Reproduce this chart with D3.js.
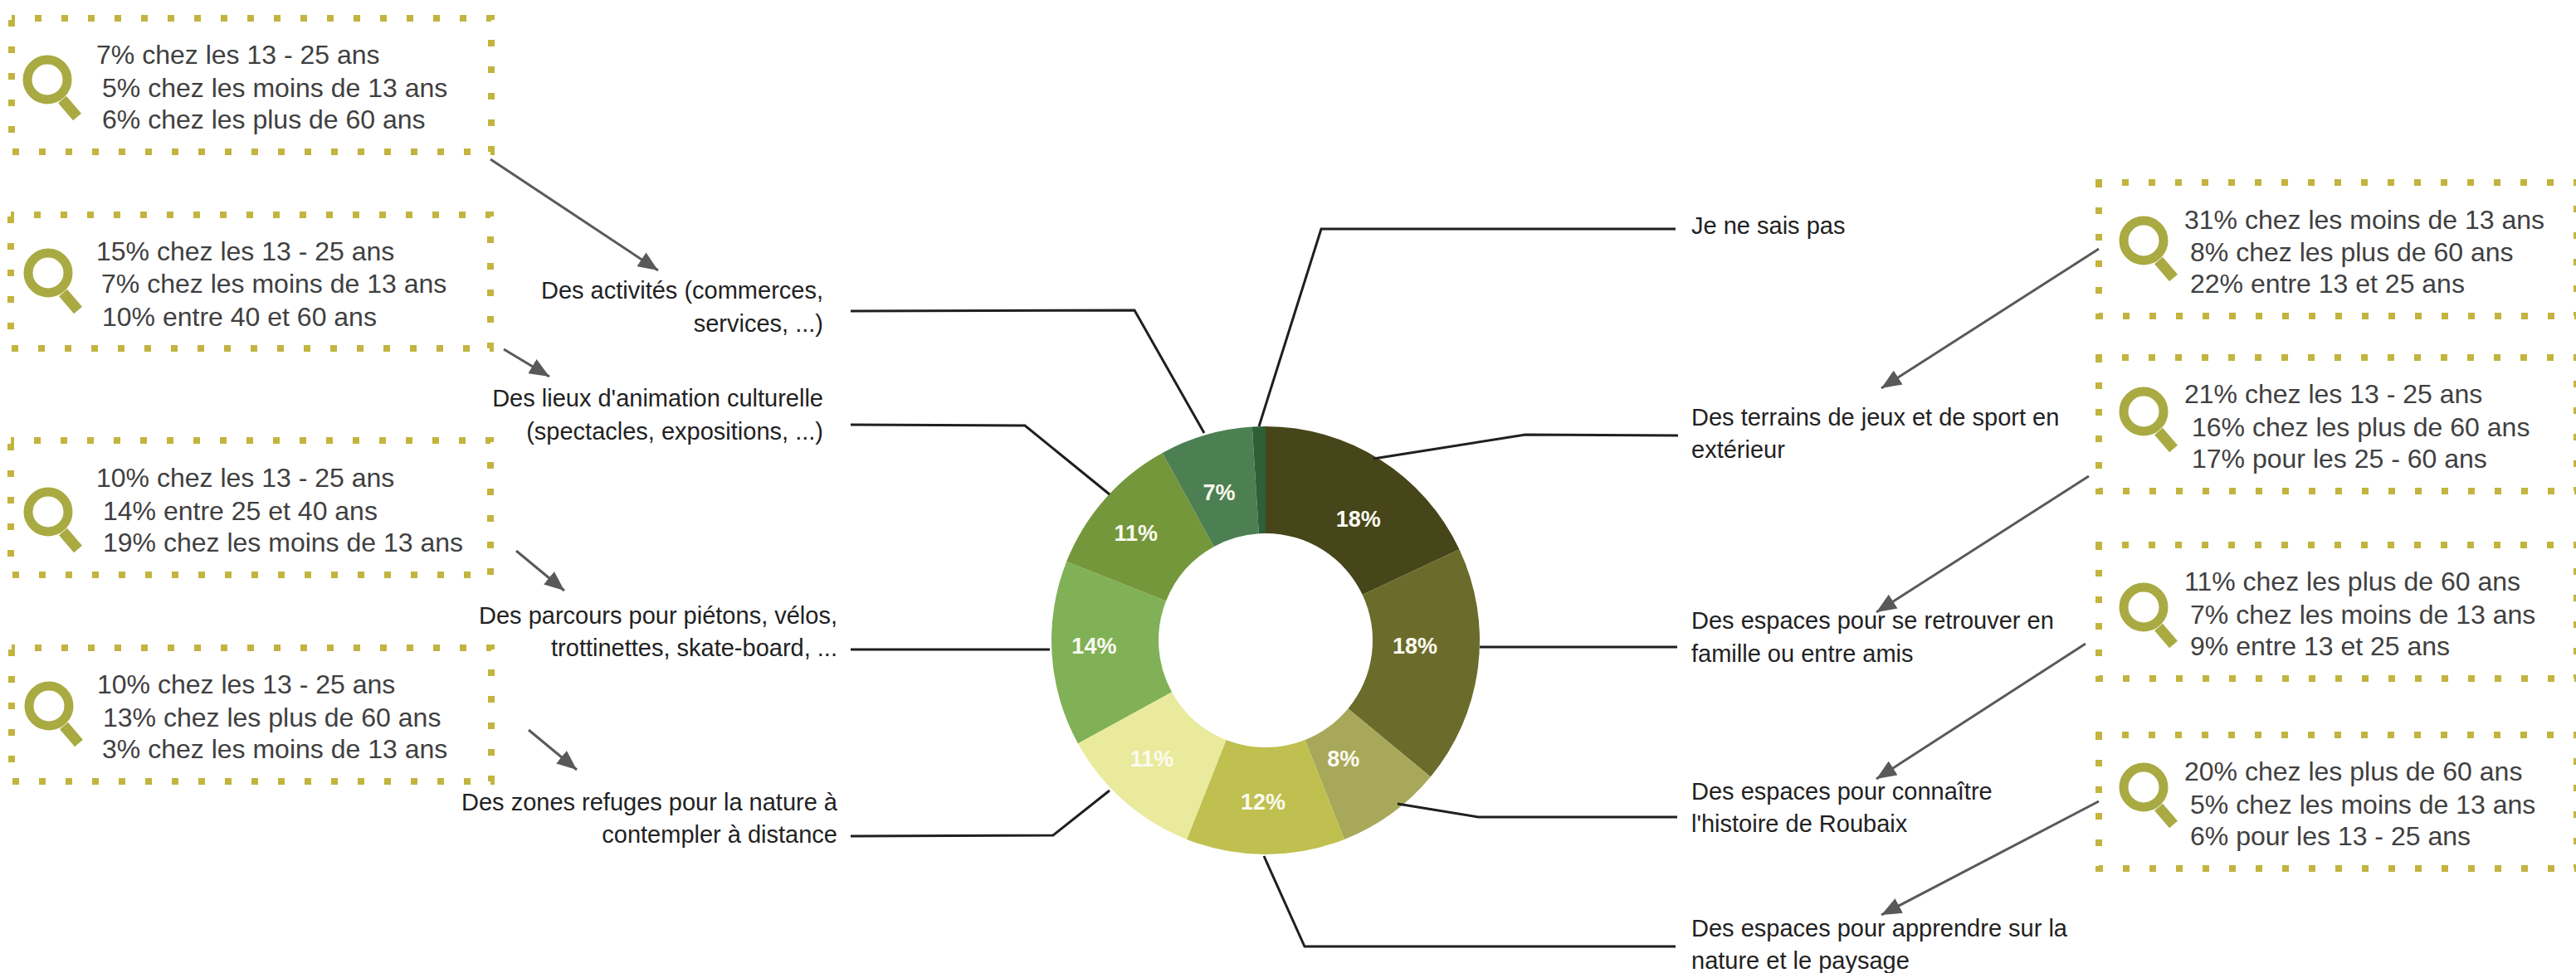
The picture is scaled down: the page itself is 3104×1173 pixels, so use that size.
<!DOCTYPE html>
<html lang="fr">
<head>
<meta charset="utf-8">
<script src="https://cdn.jsdelivr.net/npm/d3@7/dist/d3.min.js"></script>
<style>
html,body{margin:0;padding:0;background:#fff;overflow:hidden}
svg{display:block}
text{font-family:"Liberation Sans",Arial,sans-serif}
</style>
</head>
<body>
<div id="chart"></div>
<script>
// ---- data ----
const categories = ["Des terrains de jeux et de sport en extérieur","Des espaces pour se retrouver en famille ou entre amis","Des espaces pour connaître l'histoire de Roubaix","Des espaces pour apprendre sur la nature et le paysage","Des zones refuges pour la nature à contempler à distance","Des parcours pour piétons, vélos, trottinettes, skate-board, ...","Des lieux d'animation culturelle (spectacles, expositions, ...)","Des activités (commerces, services, ...)","Je ne sais pas"];
const values = [18,18,8,12,11,14,11,7,1];
const sliceColors = ["#46461a","#6b6b2c","#a8a85a","#bfc04f","#eaea9d","#80b157","#75973b","#4c8052","#2f5f37"];
const valueLabels = ["18%","18%","8%","12%","11%","14%","11%","7%",""];
const detailTexts = [
  ["7% chez les 13 - 25 ans","5% chez les moins de 13 ans","6% chez les plus de 60 ans"],
  ["15% chez les 13 - 25 ans","7% chez les moins de 13 ans","10% entre 40 et 60 ans"],
  ["10% chez les 13 - 25 ans","14% entre 25 et 40 ans","19% chez les moins de 13 ans"],
  ["10% chez les 13 - 25 ans","13% chez les plus de 60 ans","3% chez les moins de 13 ans"],
  ["31% chez les moins de 13 ans","8% chez les plus de 60 ans","22% entre 13 et 25 ans"],
  ["21% chez les 13 - 25 ans","16% chez les plus de 60 ans","17% pour les 25 - 60 ans"],
  ["11% chez les plus de 60 ans","7% chez les moins de 13 ans","9% entre 13 et 25 ans"],
  ["20% chez les plus de 60 ans","5% chez les moins de 13 ans","6% pour les 13 - 25 ans"]
];
const categoryLabelLines = [
  ["Des activités (commerces,","services, ...)"],
  ["Des lieux d'animation culturelle","(spectacles, expositions, ...)"],
  ["Des parcours pour piétons, vélos,","trottinettes, skate-board, ..."],
  ["Des zones refuges pour la nature à","contempler à distance"],
  ["Je ne sais pas"],
  ["Des terrains de jeux et de sport en","extérieur"],
  ["Des espaces pour se retrouver en","famille ou entre amis"],
  ["Des espaces pour connaître","l'histoire de Roubaix"],
  ["Des espaces pour apprendre sur la","nature et le paysage"]
];
// ---- layout ----
const W = 3104, H = 1173;
const cx = 1525, cy = 772, rOuter = 258, rInner = 129;
const labelNudge = [[8,17],[-12,-18],[-20,-14],[-3,0.5],[-9,-3],[-13.5,-6],[-11,-2],[-2,7],[0,0]];
const boxLayout = [
  {x:14,y:22,w:578,h:161,ix:57,iy:96,tx:[116,123,123],by:[77,117,155]},
  {x:13,y:259,w:578,h:161,ix:58,iy:329,tx:[116,122,123],by:[314,353,393]},
  {x:13,y:531,w:578,h:162,ix:58,iy:617,tx:[116,124,124],by:[587,627,665]},
  {x:14,y:781,w:578,h:161,ix:59,iy:851,tx:[117,124,123],by:[836,876,914]},
  {x:2529,y:220,w:576,h:161,ix:2583,iy:290,tx:[2632,2639,2639],by:[276,315,353]},
  {x:2529,y:431,w:576,h:161,ix:2583,iy:496,tx:[2632,2641,2641],by:[486,526,564]},
  {x:2529,y:657,w:576,h:161,ix:2583,iy:732,tx:[2632,2639,2639],by:[712,752,790]},
  {x:2529,y:886,w:576,h:161,ix:2583,iy:949,tx:[2632,2639,2639],by:[941,981,1019]}
];
const labelLayout = [
  {x:992,anchor:"end",by:[360,400]},
  {x:992,anchor:"end",by:[490,530]},
  {x:1009,anchor:"end",by:[752,791]},
  {x:1009,anchor:"end",by:[977,1016]},
  {x:2038,anchor:"start",by:[282]},
  {x:2038,anchor:"start",by:[513,552]},
  {x:2038,anchor:"start",by:[758,798]},
  {x:2038,anchor:"start",by:[964,1003]},
  {x:2038,anchor:"start",by:[1129,1168]}
];
const leaders = [
  [[1025,375],[1367,374],[1451,522]],
  [[1025,512],[1235,513],[1337,596]],
  [[1025,783],[1265,783]],
  [[1025,1008],[1269,1007],[1337,953]],
  [[2019,276],[1592,276],[1517,514]],
  [[2022,525],[1838,524],[1655,553]],
  [[1783,780],[2021,780]],
  [[1684,969],[1781,985],[2021,985]],
  [[1523,1032],[1572,1141],[2019,1141]]
];
const arrows = [
  [[591,192],[793,326]],
  [[607,421],[662,454]],
  [[622,664],[680,712]],
  [[637,880],[695,928]],
  [[2529,300],[2267,468]],
  [[2517,574],[2261,738]],
  [[2513,776],[2261,939]],
  [[2529,966],[2267,1103]]
];
// ---- drawing ----
const svg = d3.select("#chart").append("svg").attr("width",W).attr("height",H).attr("viewBox",[0,0,W,H]);
svg.append("defs").append("marker")
  .attr("id","head").attr("markerUnits","userSpaceOnUse")
  .attr("markerWidth",24).attr("markerHeight",20).attr("refX",24).attr("refY",10).attr("orient","auto")
  .append("path").attr("d","M0,0L24,10L0,20Z").attr("fill","#595959");
const pie = d3.pie().value(d=>d).sort(null);
const arc = d3.arc().innerRadius(rInner).outerRadius(rOuter);
const arcs = pie(values);
const gDonut = svg.append("g").attr("transform",`translate(${cx},${cy})`);
gDonut.selectAll("path").data(arcs).join("path").attr("d",arc).attr("fill",(d,i)=>sliceColors[i]);
gDonut.selectAll("text").data(arcs).join("text")
  .attr("transform",(d,i)=>{const c=arc.centroid(d);return `translate(${c[0]+labelNudge[i][0]},${c[1]+labelNudge[i][1]})`;})
  .attr("text-anchor","middle").attr("dy","0.36em")
  .attr("font-size",27).attr("font-weight","bold").attr("fill","#fbfbf0")
  .text((d,i)=>valueLabels[i]);
const line = d3.line();
svg.append("g").selectAll("path").data(leaders).join("path")
  .attr("d",line).attr("fill","none").attr("stroke","#1f1f1f").attr("stroke-width",3);
svg.append("g").selectAll("path").data(arrows).join("path")
  .attr("d",line).attr("fill","none").attr("stroke","#595959").attr("stroke-width",3)
  .attr("marker-end","url(#head)");
const gLabels = svg.append("g").attr("font-size",29).attr("fill","#222");
categoryLabelLines.forEach((lines,i)=>{
  const L = labelLayout[i];
  gLabels.append("g").attr("text-anchor",L.anchor).selectAll("text").data(lines).join("text")
    .attr("x",L.x).attr("y",(d,j)=>L.by[j]).text(d=>d);
});
boxLayout.forEach((b,i)=>{
  const g = svg.append("g");
  g.append("path")
    .attr("d",`M${b.x},${b.y}H${b.x+b.w}V${b.y+b.h}H${b.x}Z`)
    .attr("fill","none").attr("stroke","#c2b43f").attr("stroke-width",8)
    .attr("stroke-dasharray","8 24").attr("stroke-dashoffset",4);
  g.append("circle").attr("cx",b.ix).attr("cy",b.iy).attr("r",24)
    .attr("fill","none").attr("stroke","#a9aa42").attr("stroke-width",11);
  g.append("line").attr("x1",b.ix+18).attr("y1",b.iy+24).attr("x2",b.ix+36).attr("y2",b.iy+45)
    .attr("stroke","#a9aa42").attr("stroke-width",13);
  g.append("g").attr("font-size",32).attr("fill","#404040").selectAll("text").data(detailTexts[i]).join("text")
    .attr("x",(d,j)=>b.tx[j]).attr("y",(d,j)=>b.by[j]).text(d=>d);
});
</script>
</body>
</html>
